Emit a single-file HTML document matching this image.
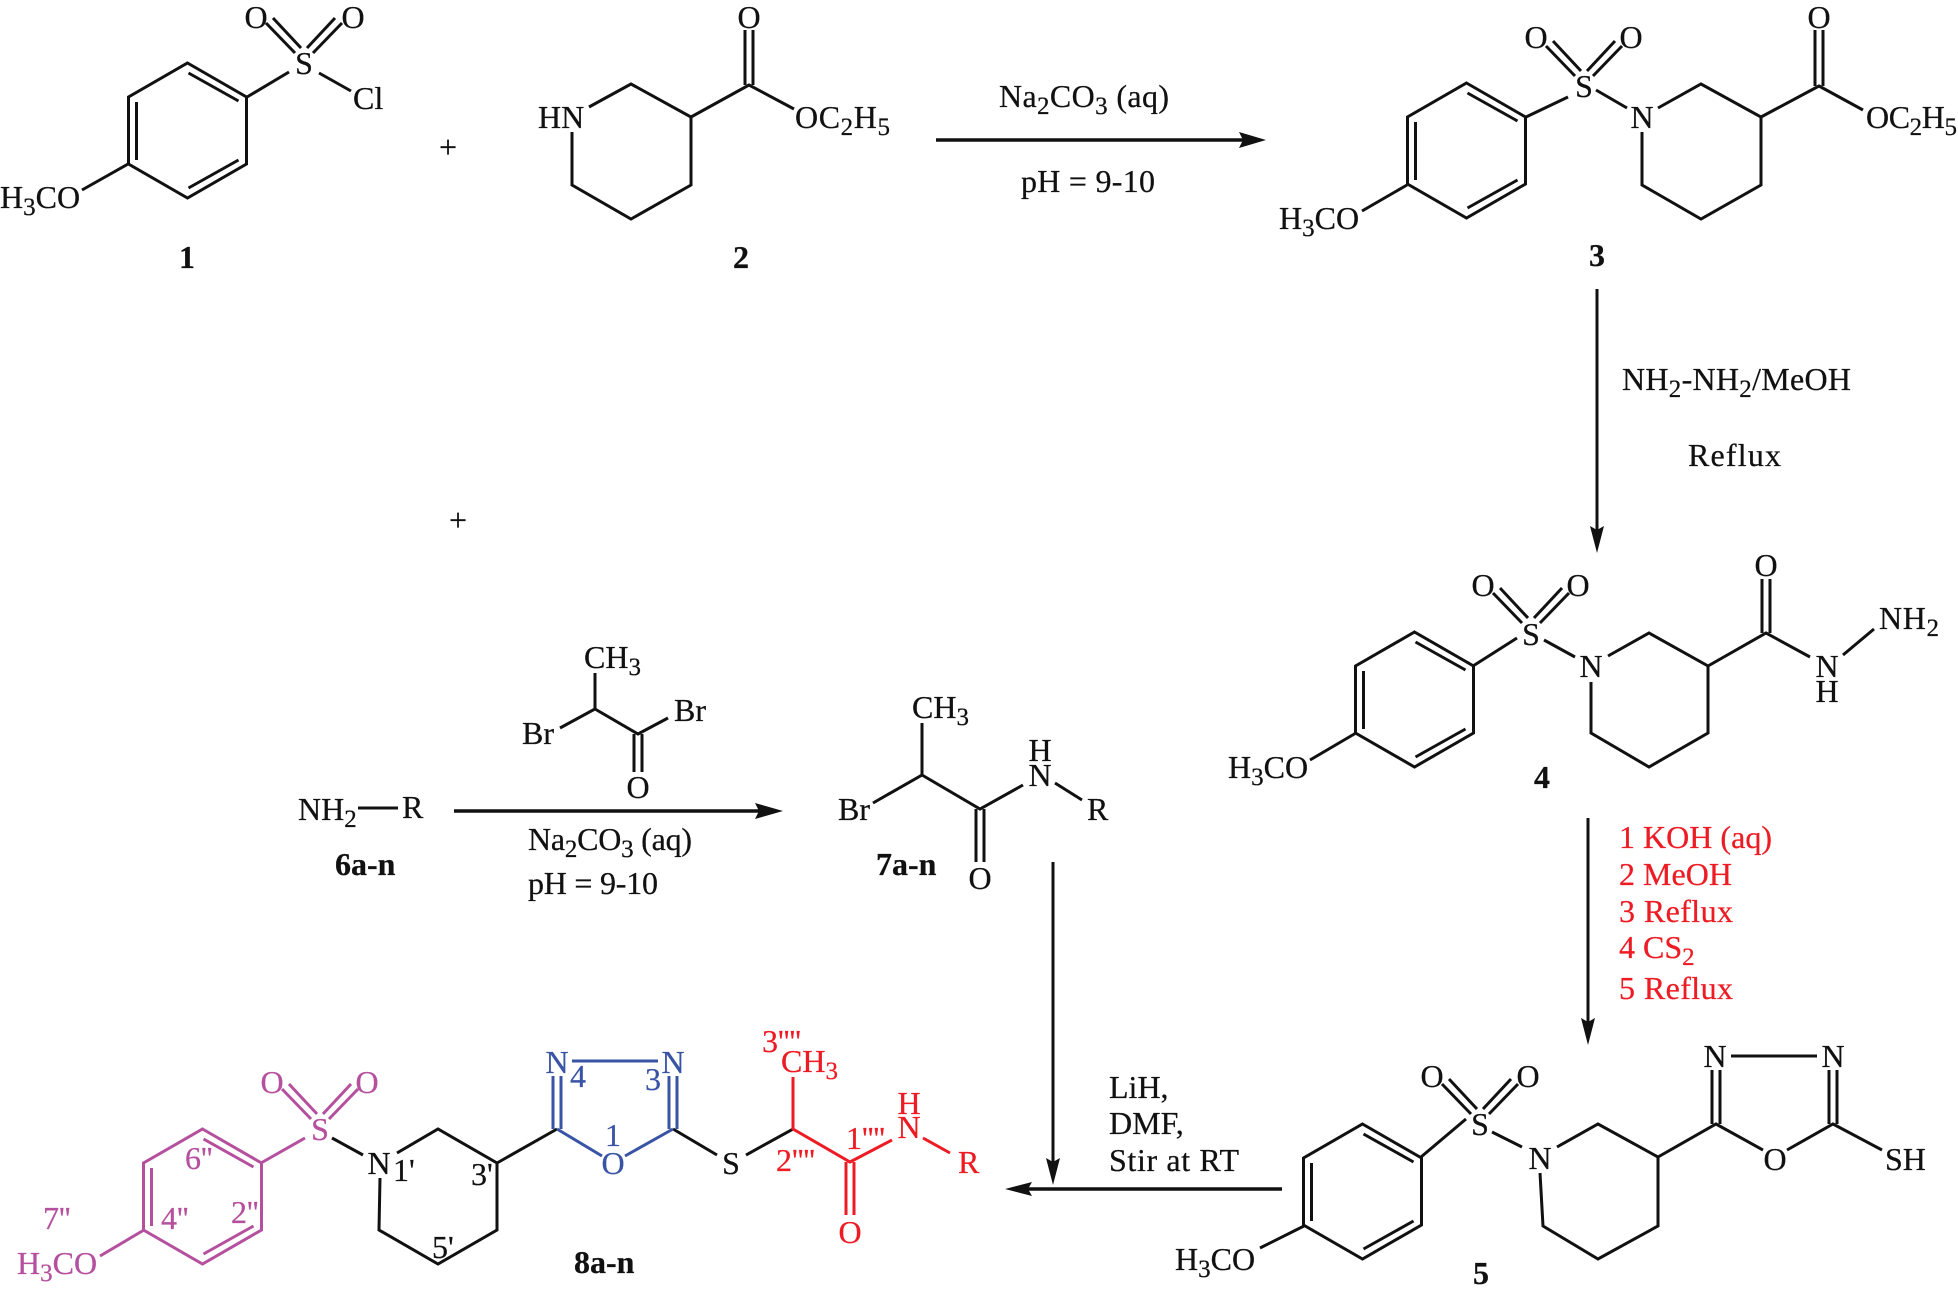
<!DOCTYPE html>
<html><head><meta charset="utf-8"><style>
html,body{margin:0;padding:0;background:#fff}
svg{display:block}
text{font-family:"Liberation Serif",serif;font-size:32px;fill:#111;stroke:#111;stroke-width:.25}
.b{font-weight:bold}
.m{text-anchor:middle}
.s{font-size:25px}
.l{fill:none;stroke:#111;stroke-width:3;stroke-linejoin:miter}
.a{stroke-width:3.6}
.r text{fill:#ed1c24;stroke:#ed1c24}
.p text{fill:#b5509e;stroke:#b5509e}
.u text{fill:#3a54a5;stroke:#3a54a5}
</style></head><body>
<svg width="1958" height="1295" viewBox="0 0 1958 1295" xmlns="http://www.w3.org/2000/svg">
<defs>
<path id="so2" d="M-38-40L-9-10M-31-45L-3-15M31-45L3-15M38-40L9-10"/>
<path id="bz" d="M0 0L59 34V101L0 135L-59 101V34ZM1 10L51 38M51 97L1 125M-51 39V97"/>
</defs>

<!-- Molecule 1 -->
<g class="l"><use href="#bz" x="187.500" y="63"/><use href="#so2" x="304" y="63"/>
<path d="M247 97L289 72M319 73L351 91M128 164L82 190"/></g>
<text x="256" y="28" class="m">O</text><text x="353" y="28" class="m">O</text>
<text x="304" y="74" class="m">S</text><text x="353" y="109">Cl</text>
<text x="0" y="208">H<tspan class="s" dy="7">3</tspan><tspan dy="-7">CO</tspan></text>
<text x="448" y="158" class="m">+</text>
<text x="187" y="268" class="b m">1</text>

<!-- Molecule 2 -->
<path class="l" d="M589 107L631 84L691 117V185L631 219L572 185V132M691 117L749 85L794 109M745 85V30M753 85V30"/>
<text x="538" y="128">HN</text><text x="749" y="28" class="m">O</text>
<text x="795" y="128" textLength="95">OC<tspan class="s" dy="7">2</tspan><tspan dy="-7">H</tspan><tspan class="s" dy="7">5</tspan></text>
<text x="741" y="268" class="b m">2</text>

<!-- Arrow 1 -->
<path class="l a" d="M936 140H1245"/><polygon points="1266,140 1239,132 1243,140 1239,148" fill="#111"/>
<text x="999" y="107" textLength="170">Na<tspan class="s" dy="7">2</tspan><tspan dy="-7">CO</tspan><tspan class="s" dy="7">3</tspan><tspan dy="-7"> (aq)</tspan></text>
<text x="1021" y="192" textLength="134">pH = 9-10</text>

<!-- Molecule 3 -->
<g class="l"><use href="#bz" x="1466.500" y="83"/><use href="#so2" x="1584" y="86"/>
<path d="M1526 117L1568 97M1596 90L1627 108M1658 108L1701 84L1761 117V185L1701 219L1642 185V132M1761 117L1819 86L1863 110M1815 86V30M1823 86V30M1407 185L1362 211"/></g>
<text x="1536" y="48" class="m">O</text><text x="1631" y="48" class="m">O</text>
<text x="1584" y="97" class="m">S</text><text x="1642" y="128" class="m">N</text>
<text x="1819" y="28" class="m">O</text>
<text x="1866" y="128" textLength="91">OC<tspan class="s" dy="7">2</tspan><tspan dy="-7">H</tspan><tspan class="s" dy="7">5</tspan></text>
<text x="1279" y="229">H<tspan class="s" dy="7">3</tspan><tspan dy="-7">CO</tspan></text>
<text x="1597" y="266" class="b m">3</text>

<!-- Arrow 3 to 4 -->
<path class="l" d="M1597 289V535"/><polygon points="1597,553 1590,526 1597,530 1604,526" fill="#111"/>
<text x="1622" y="390" textLength="229">NH<tspan class="s" dy="7">2</tspan><tspan dy="-7">-NH</tspan><tspan class="s" dy="7">2</tspan><tspan dy="-7">/MeOH</tspan></text>
<text x="1688" y="466" textLength="93">Reflux</text>

<!-- Plus 2 -->
<text x="458" y="531" class="m">+</text>

<!-- Molecule 4 -->
<g class="l"><use href="#bz" x="1414.500" y="632"/><use href="#so2" x="1531" y="633"/>
<path d="M1473 666L1517 638M1544 640L1575 657M1608 656L1649 633L1708 666V733L1649 767L1591 733V682M1708 666L1766 633L1810 657M1762 633V579M1770 633V579M1843 655L1874 629M1356 733L1310 760"/></g>
<text x="1483" y="596" class="m">O</text><text x="1578" y="596" class="m">O</text>
<text x="1531" y="645" class="m">S</text><text x="1591" y="677" class="m">N</text>
<text x="1766" y="576" class="m">O</text><text x="1827" y="677" class="m">N</text>
<text x="1827" y="702" class="m">H</text>
<text x="1879" y="629" textLength="60">NH<tspan class="s" dy="7">2</tspan></text>
<text x="1228" y="778">H<tspan class="s" dy="7">3</tspan><tspan dy="-7">CO</tspan></text>
<text x="1542" y="788" class="b m">4</text>

<!-- Arrow 4 to 5 -->
<path class="l" d="M1588 818V1025"/><polygon points="1588,1045 1581,1018 1588,1022 1595,1018" fill="#111"/>
<g class="r">
<text x="1619" y="848" textLength="153">1 KOH (aq)</text>
<text x="1619" y="885" textLength="113">2 MeOH</text>
<text x="1619" y="922" textLength="114">3 Reflux</text>
<text x="1619" y="958">4 CS<tspan class="s" dy="7">2</tspan></text>
<text x="1619" y="999" textLength="114">5 Reflux</text>
</g>

<!-- Molecule 6 / reaction -->
<text x="298" y="820">NH<tspan class="s" dy="7">2</tspan></text>
<path class="l" d="M358 808H398"/><text x="402" y="818">R</text>
<text x="335" y="875" class="b">6a-n</text>
<path class="l a" d="M454 811H765"/><polygon points="783,811 755,803 759,811 755,819" fill="#111"/>
<text x="528" y="850" textLength="164">Na<tspan class="s" dy="7">2</tspan><tspan dy="-7">CO</tspan><tspan class="s" dy="7">3</tspan><tspan dy="-7"> (aq)</tspan></text>
<text x="528" y="894" textLength="130">pH = 9-10</text>
<text x="584" y="668">CH<tspan class="s" dy="7">3</tspan></text>
<path class="l" d="M595 673V709L560 728M595 709L638 734L668 718M634 734V772M642 734V772"/>
<text x="522" y="744">Br</text><text x="674" y="721">Br</text>
<text x="638" y="798" class="m">O</text>

<!-- Molecule 7 -->
<text x="912" y="718">CH<tspan class="s" dy="7">3</tspan></text>
<path class="l" d="M922 723V775L873 803M922 775L980 809L1023 785M1055 783L1082 800M976 809V862M984 809V862"/>
<text x="838" y="820">Br</text><text x="1040" y="786" class="m">N</text>
<text x="1040" y="761" class="m">H</text><text x="1087" y="820">R</text>
<text x="980" y="889" class="m">O</text>
<text x="876" y="875" class="b">7a-n</text>

<!-- Arrow 7 to 8 -->
<path class="l" d="M1053 862V1165"/><polygon points="1053,1185 1046,1158 1053,1162 1060,1158" fill="#111"/>

<!-- Arrow 5 to 8 -->
<path class="l a" d="M1282 1189H1025"/><polygon points="1005,1189 1032,1182 1028,1189 1032,1196" fill="#111"/>
<text x="1109" y="1098">LiH,</text><text x="1109" y="1134">DMF,</text>
<text x="1109" y="1171" textLength="130">Stir at RT</text>

<!-- Molecule 5 -->
<g class="l"><use href="#bz" x="1362.500" y="1124"/><use href="#so2" x="1480" y="1124"/>
<path d="M1421 1157L1466 1119M1492 1132L1522 1147M1557 1147L1598 1124L1658 1157V1226L1598 1259L1543 1226L1540 1173M1658 1157L1716 1124L1763 1150M1787 1150L1833 1124L1882 1150M1712 1124V1070M1720 1124V1070M1829 1124V1070M1837 1124V1070M1731 1056H1817M1304 1226L1260 1248"/></g>
<text x="1432" y="1087" class="m">O</text><text x="1528" y="1087" class="m">O</text>
<text x="1480" y="1135" class="m">S</text><text x="1540" y="1169" class="m">N</text>
<text x="1715" y="1067" class="m">N</text><text x="1833" y="1067" class="m">N</text>
<text x="1775" y="1170" class="m">O</text><text x="1885" y="1170">SH</text>
<text x="1175" y="1270">H<tspan class="s" dy="7">3</tspan><tspan dy="-7">CO</tspan></text>
<text x="1481" y="1284" class="b m">5</text>

<!-- Molecule 8: magenta -->
<g class="l" style="stroke:#b5509e"><use href="#bz" x="202.500" y="1129"/><use href="#so2" x="320" y="1129"/>
<path d="M261 1163L305 1138M144 1230L100 1256"/></g>
<g class="p">
<text x="272" y="1093" class="m">O</text><text x="367" y="1093" class="m">O</text>
<text x="320" y="1140" class="m">S</text>
<text x="17" y="1274">H<tspan class="s" dy="7">3</tspan><tspan dy="-7">CO</tspan></text>
<text x="185" y="1169">6''</text><text x="161" y="1229">4''</text>
<text x="231" y="1223">2''</text><text x="43" y="1229">7''</text>
</g>
<!-- Molecule 8: black -->
<path class="l" d="M332 1138L363 1155M397 1153L438 1129L497 1163V1230L438 1264L379 1230L380 1178M497 1163L557 1129M673 1129L717 1155M746 1155L793 1129"/>
<text x="379" y="1174" class="m">N</text><text x="393" y="1181">1'</text>
<text x="471" y="1185">3'</text><text x="432" y="1258">5'</text>
<text x="731" y="1174" class="m">S</text>
<text x="574" y="1273" class="b">8a-n</text>
<!-- Molecule 8: blue -->
<path class="l" style="stroke:#3a54a5" d="M557 1129L602 1156M625 1156L673 1129M553 1129V1076M561 1129V1076M669 1129V1076M677 1129V1076M572 1061H658"/>
<g class="u">
<text x="557" y="1073" class="m">N</text><text x="673" y="1073" class="m">N</text>
<text x="613" y="1174" class="m">O</text><text x="613" y="1146" class="m">1</text>
<text x="570" y="1087">4</text><text x="645" y="1090">3</text>
</g>
<!-- Molecule 8: red -->
<path class="l" style="stroke:#ed1c24" d="M793 1077V1129L850 1162L892 1140M923 1138L950 1153M846 1162V1215M854 1162V1215"/>
<g class="r">
<text x="781" y="1072">CH<tspan class="s" dy="7">3</tspan></text>
<text x="762" y="1052">3''''</text>
<text x="909" y="1138" class="m">N</text><text x="909" y="1114" class="m">H</text>
<text x="958" y="1173">R</text><text x="850" y="1243" class="m">O</text>
<text x="846" y="1149">1''''</text><text x="776" y="1171">2''''</text>
</g>
</svg>
</body></html>
